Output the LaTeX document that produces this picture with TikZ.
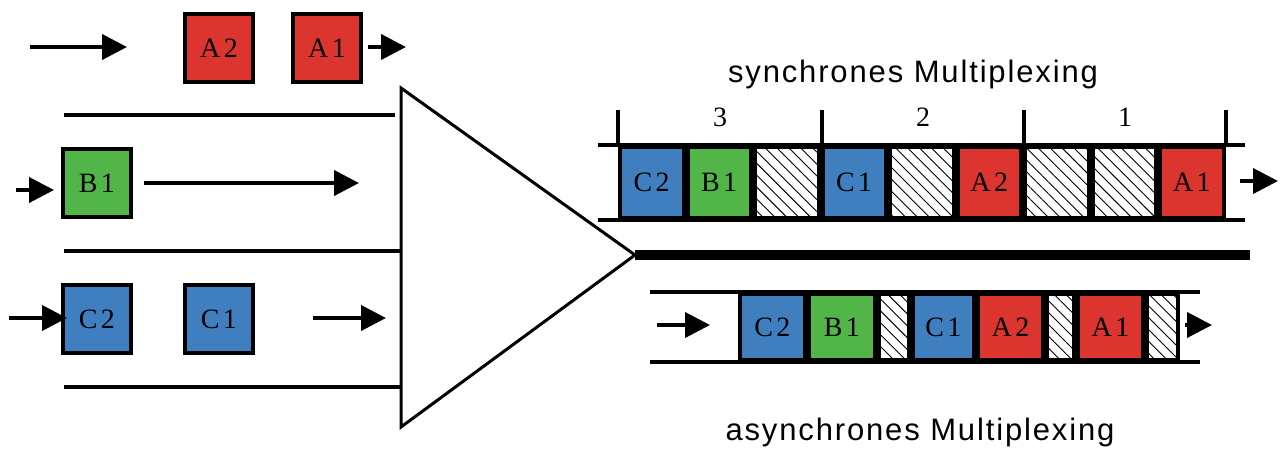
\documentclass[tikz,border=0pt]{standalone}
\usepackage{fontspec}
\setmainfont{Liberation Serif}
\newfontfamily\pktfamily{Liberation Serif}[LetterSpace=12]
\newfontfamily\ttlfamily{Liberation Sans}[LetterSpace=6]
\newcommand\pktfont{\pktfamily\fontsize{14}{16}\selectfont}
\newcommand\ttlfont{\ttlfamily\fontsize{15.5}{18}\selectfont}
\usetikzlibrary{arrows.meta,patterns.meta}
\definecolor{muxred}{HTML}{DC3530}
\definecolor{muxgreen}{HTML}{52B548}
\definecolor{muxblue}{HTML}{3F7FBF}

\tikzset{
  pkt/.style={draw=black, line width=2pt, minimum size=34pt, inner sep=0pt, font=\pktfont},
  slot/.style={draw=black, line width=2pt, inner sep=0pt, font=\pktfont},
  redslot/.style={slot, fill=muxred},
  greenslot/.style={slot, fill=muxgreen},
  blueslot/.style={slot, fill=muxblue},
  idle/.style={slot, pattern={Lines[angle=-45,distance=4.2pt,line width=0.45pt]}},
  flow/.style={line width=2pt, -{Triangle[length=12.5pt,width=12.5pt]}},
  wire/.style={line width=2pt},
}

\begin{document}
\begin{tikzpicture}[x=0.5pt,y=-0.5pt]
\useasboundingbox (0,0) rectangle (1281,452);

% input channels
\draw[wire] (64,115) -- (395,115);
\draw[wire] (64,251) -- (400,251);
\draw[wire] (64,387) -- (400,387);

\node[pkt, fill=muxred] (inA2) at (219,48) {A2};
\node[pkt, fill=muxred] (inA1) at (327,48) {A1};
\node[pkt, fill=muxgreen] (inB1) at (97,183) {B1};
\node[pkt, fill=muxblue] (inC2) at (97,319) {C2};
\node[pkt, fill=muxblue] (inC1) at (219,319) {C1};

\coordinate (a0) at (30,47);   \coordinate (a1) at (127,47);
\coordinate (a2) at (368,47);  \coordinate (a3) at (406,47);
\coordinate (b0) at (16,190);  \coordinate (b1) at (54,190);
\coordinate (b2) at (144,183); \coordinate (b3) at (359,183);
\coordinate (c0) at (9,318);   \coordinate (c1) at (67,318);
\coordinate (c2) at (313,318); \coordinate (c3) at (386,318);
\draw[flow] (a0) -- (a1);
\draw[flow] (a2) -- (a3);
\draw[flow] (b0) -- (b1);
\draw[flow] (b2) -- (b3);
\draw[flow] (c0) -- (c1);
\draw[flow] (c2) -- (c3);

% multiplexer
\coordinate (muxtop) at (401,88);
\coordinate (muxbot) at (401,427);
\coordinate (muxtip) at (635,255);
\draw[line width=1.5pt, line join=miter] (muxtop) -- (muxtip) -- (muxbot) -- cycle;
\coordinate (trunk) at (1250,255);
\draw[line width=5pt] (muxtip) -- (trunk);

% synchronous frame
\node[font=\ttlfont] (synctitle) at (913,74) {synchrones Multiplexing};
\draw[wire] (598,145) -- (1245,145);
\draw[wire] (598,220) -- (1245,220);
\foreach \x in {618,822,1024,1226}
  \draw[wire] (\x,110) -- (\x,145);
\node[font=\pktfont] (fr3) at (720,117) {3};
\node[font=\pktfont] (fr2) at (923,117) {2};
\node[font=\pktfont] (fr1) at (1125,117) {1};
\foreach \lab/\sty [count=\i from 0] in {C2/blueslot, B1/greenslot, /idle, C1/blueslot, /idle, A2/redslot, /idle, /idle, A1/redslot}
  \node[\sty, minimum width=31.75pt, minimum height=35.5pt] (s\i) at ({618+67.5*\i+33.75},182.5) {\lab};
\coordinate (so0) at (1240,181); \coordinate (so1) at (1278,181);
\draw[flow] (so0) -- (so1);

% asynchronous frame
\draw[wire] (650,292) -- (1200,292);
\draw[wire] (650,362) -- (1200,362);
\foreach \lab/\sty/\xa/\xb [count=\i] in {C2/blueslot/738/807, B1/greenslot/807/877, /idle/877/911, C1/blueslot/911/976, A2/redslot/976/1045, /idle/1045/1076, A1/redslot/1076/1145, /idle/1145/1180}
  \node[\sty, minimum width={(\xb-\xa)*0.5pt-2pt}, minimum height=33pt] (as\i) at ({(\xa+\xb)/2},327) {\lab};
\coordinate (ai0) at (657,325); \coordinate (ai1) at (710,325);
\coordinate (ao0) at (1185,325); \coordinate (ao1) at (1212,325);
\draw[flow] (ai0) -- (ai1);
\draw[flow] (ao0) -- (ao1);
\node[font=\ttlfont] (asynctitle) at (920,432) {asynchrones Multiplexing};

\end{tikzpicture}
\end{document}
